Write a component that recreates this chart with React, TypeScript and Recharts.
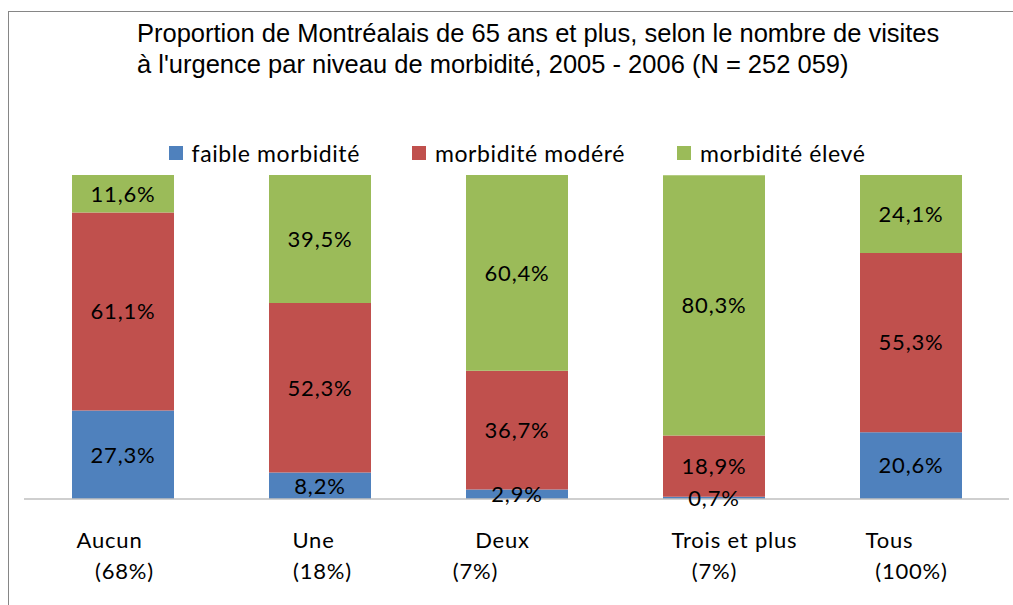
import { BarChart, Bar, XAxis, YAxis, LabelList } from "recharts";

const categories = ["Aucun", "Une", "Deux", "Trois et plus", "Tous"];
const shares = ["(68%)", "(18%)", "(7%)", "(7%)", "(100%)"];
const faible = [27.3, 8.2, 2.9, 0.7, 20.6];
const modere = [61.1, 52.3, 36.7, 18.9, 55.3];
const eleve = [11.6, 39.5, 60.4, 80.3, 24.1];

const SERIES = [
  { key: "faible", label: "faible morbidité", color: "#4F81BD" },
  { key: "modere", label: "morbidité modéré", color: "#C0504D" },
  { key: "eleve", label: "morbidité élevé", color: "#9BBB59" },
];

// Excel placed the two label lines a little off-centre; nudges in px (line 1, line 2).
const LABEL_NUDGE = [
  [-13, 2],
  [-6, 3],
  [-14, -41],
  [21, 1],
  [-21, 1],
];

const LABEL_FONT = "Lato, 'Open Sans', sans-serif";

const fmt = (v: any) => `${Number(v).toFixed(1).replace(".", ",")}%`;

function CategoryTick(props: any) {
  const { x, y, payload } = props;
  const i = categories.indexOf(payload.value);
  const [d1, d2] = LABEL_NUDGE[i] ?? [0, 0];
  const common = {
    textAnchor: "middle" as const,
    fontSize: 22,
    letterSpacing: 0.8,
    fontFamily: LABEL_FONT,
    fill: "#000",
  };
  return (
    <g>
      <text x={x + d1} y={y + 49} {...common}>
        {payload.value}
      </text>
      <text x={x + d2} y={y + 80} {...common}>
        {shares[i]}
      </text>
    </g>
  );
}

export default function App() {
  const data = categories.map((c, i) => ({
    name: c,
    faible: faible[i],
    modere: modere[i],
    eleve: eleve[i],
  }));

  return (
    <div
      style={{
        position: "fixed",
        left: 8,
        top: 11,
        width: 1005,
        height: 594,
        borderLeft: "1px solid #868686",
        borderTop: "1px solid #868686",
        background: "#fff",
      }}
    >
      <div
        style={{
          position: "absolute",
          left: 128,
          top: 6,
          fontFamily: "'Liberation Sans', Arial, sans-serif",
          fontSize: 25.5,
          lineHeight: "31px",
          color: "#000",
          whiteSpace: "nowrap",
        }}
      >
        Proportion de Montréalais de 65 ans et plus, selon le nombre de visites
        <br />
        à l'urgence par niveau de morbidité, 2005 - 2006 (N = 252 059)
      </div>

      {/* legend, centred over the plot area */}
      <div
        style={{
          position: "absolute",
          left: 15,
          width: 986,
          top: 126,
          height: 30,
          display: "flex",
          alignItems: "center",
          justifyContent: "center",
          gap: 52,
          fontFamily: LABEL_FONT,
          fontSize: 23,
          letterSpacing: 0.6,
          color: "#000",
        }}
      >
        {SERIES.map((s) => (
          <span key={s.key} style={{ display: "flex", alignItems: "center", gap: 9 }}>
            <span style={{ width: 14, height: 14, background: s.color, display: "inline-block" }} />
            {s.label}
          </span>
        ))}
      </div>

      <BarChart
        width={1004}
        height={593}
        data={data}
        margin={{ top: 163, right: 4, left: 15, bottom: 0 }}
      >
        <YAxis hide domain={[0, 100]} type="number" />
        <XAxis
          dataKey="name"
          height={106}
          interval={0}
          tickSize={0}
          tickMargin={0}
          tickLine={false}
          axisLine={{ stroke: "#BFBFBF", strokeWidth: 1.5 }}
          tick={<CategoryTick />}
        />
        {SERIES.map((s) => (
          <Bar
            key={s.key}
            dataKey={s.key}
            stackId="a"
            fill={s.color}
            barSize={102}
            isAnimationActive={false}
          >
            <LabelList
              dataKey={s.key}
              position="center"
              formatter={fmt}
              fill="#000"
              fontSize={22}
              letterSpacing={0.8}
              fontFamily={LABEL_FONT}
            />
          </Bar>
        ))}
      </BarChart>
    </div>
  );
}
